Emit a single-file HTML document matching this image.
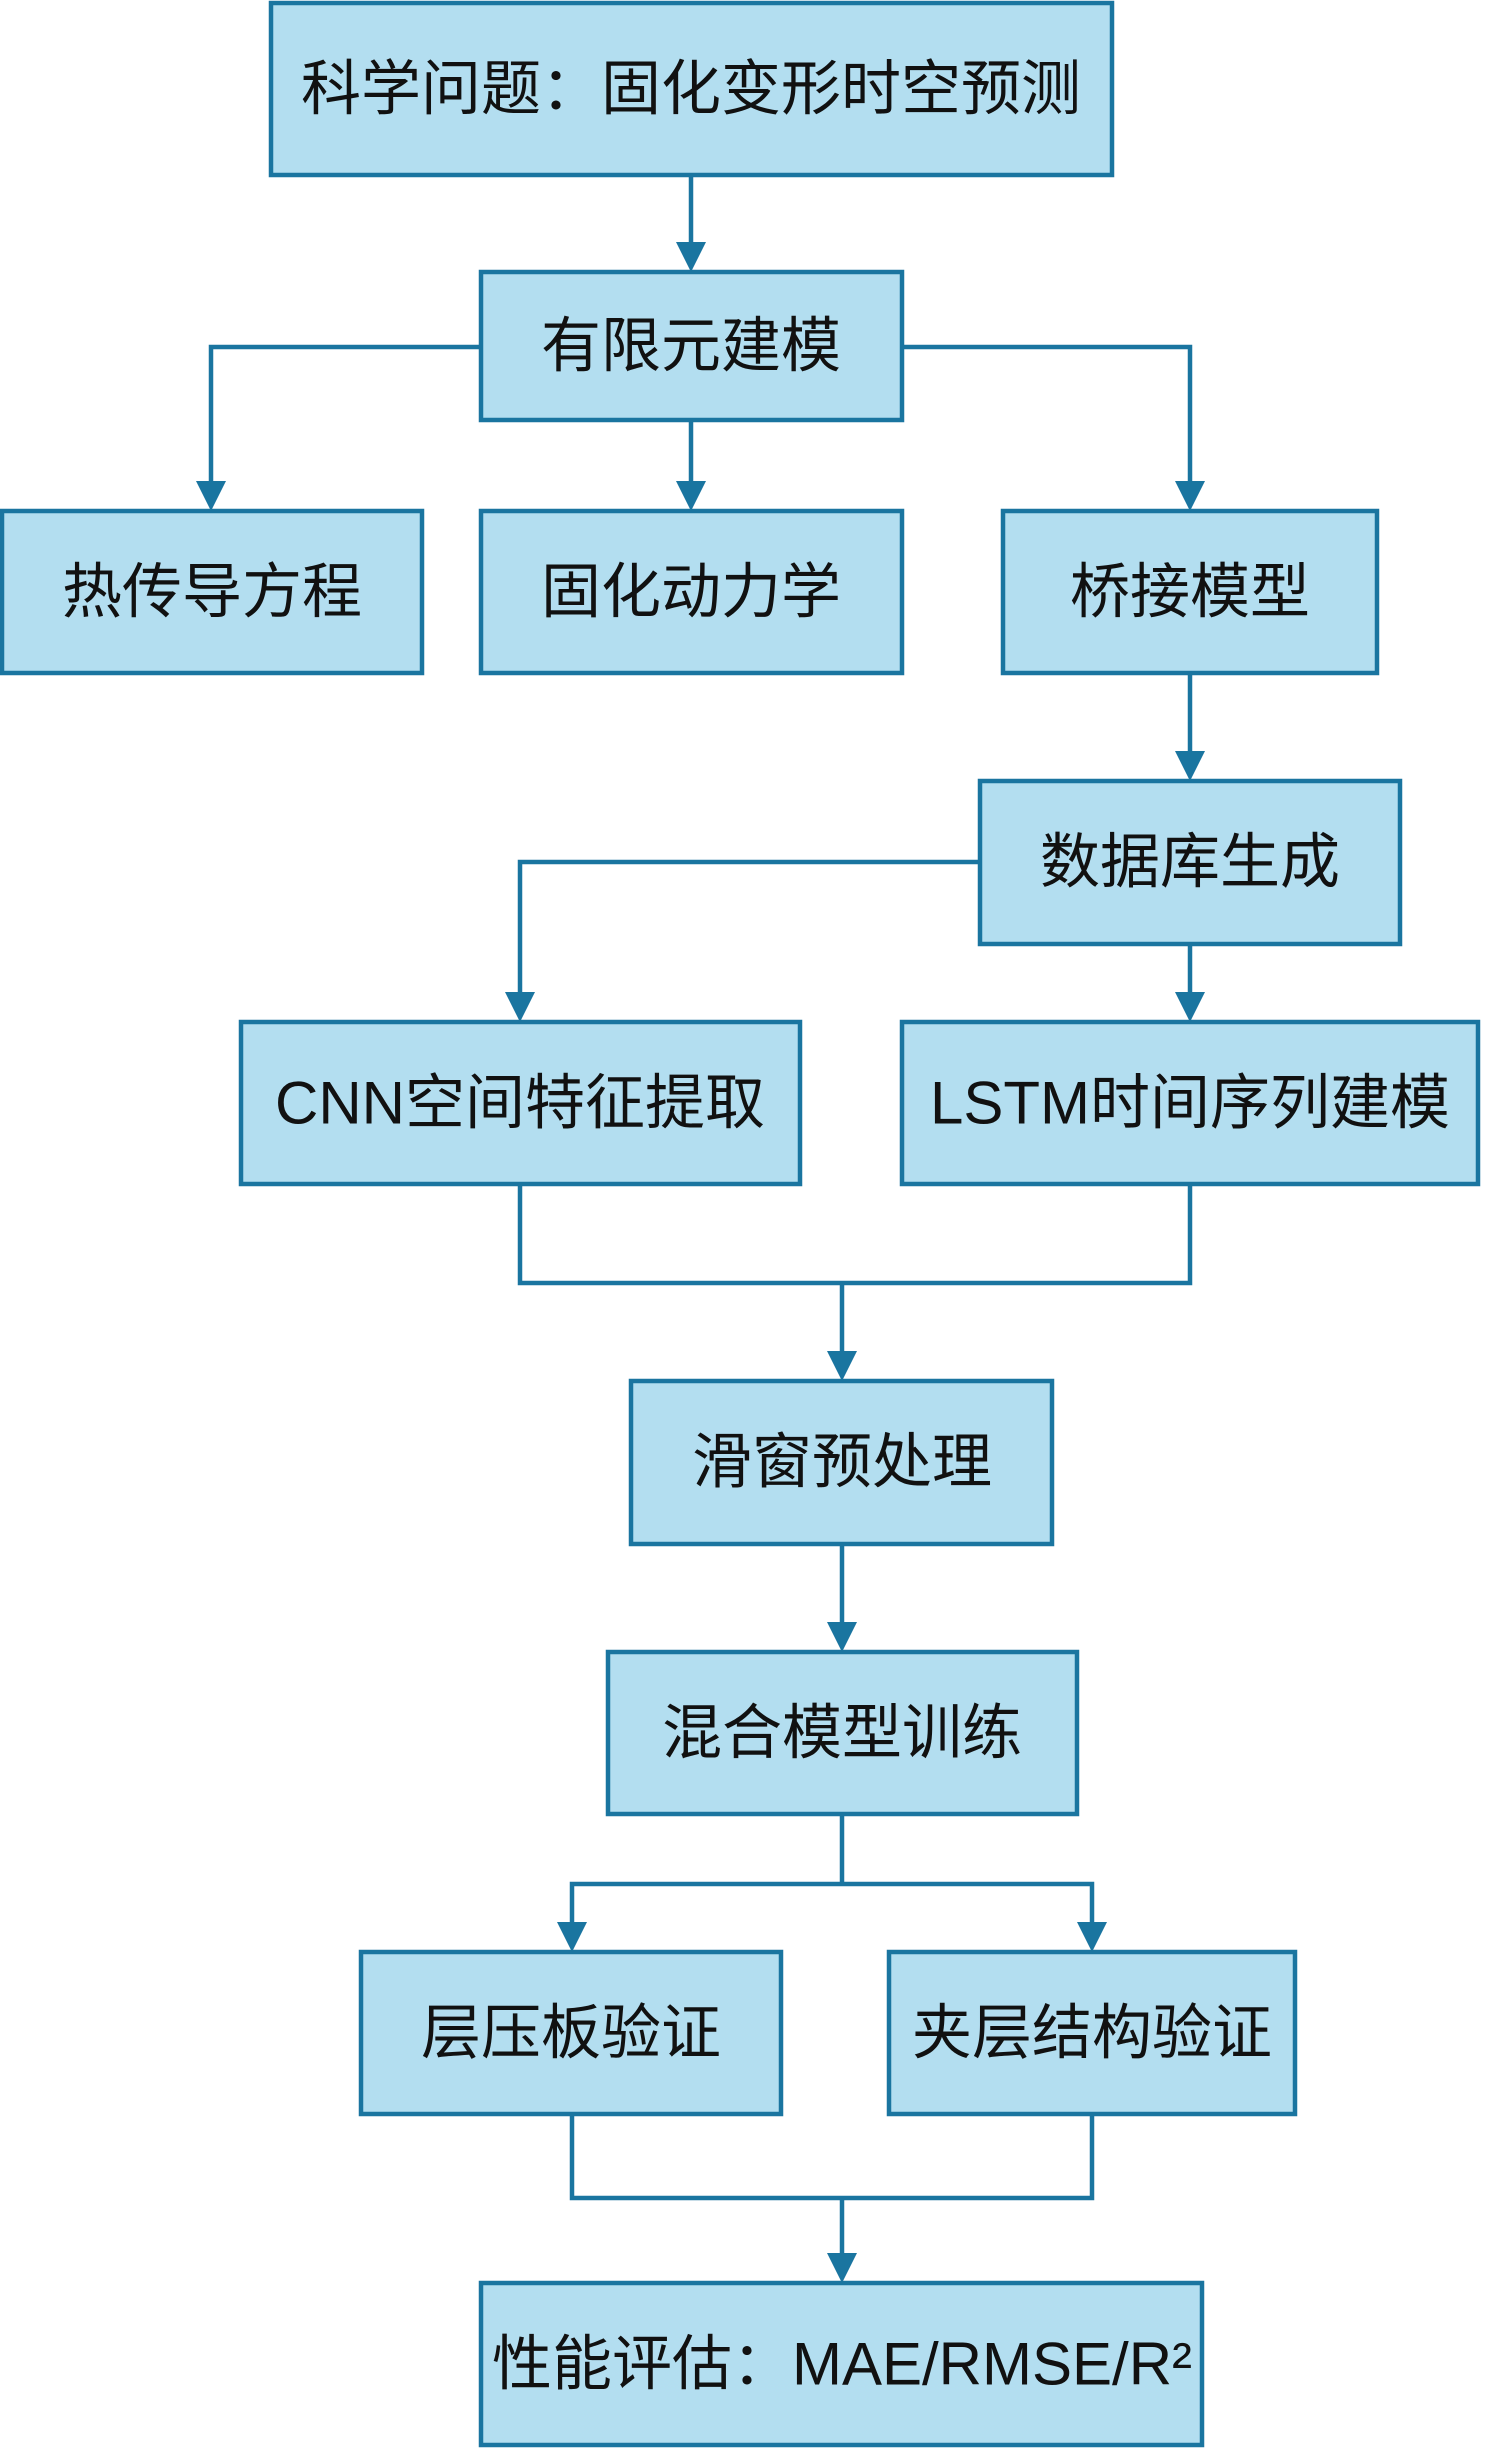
<!DOCTYPE html>
<html><head><meta charset="utf-8"><style>
html,body{margin:0;padding:0;background:#fff;}
svg{display:block;}
text{font-family:"Liberation Sans","Noto Sans CJK SC",sans-serif;font-size:60px;fill:#111;}
</style></head><body>
<svg width="1485" height="2448" viewBox="0 0 1485 2448" xmlns="http://www.w3.org/2000/svg">
<g fill="none" stroke="#1a75a0" stroke-width="4.5">
<path d="M691 175V245"/>
<path d="M481 347H211V484"/>
<path d="M691 420V484"/>
<path d="M902 347H1190V484"/>
<path d="M1190 673V754"/>
<path d="M980 862H520V995"/>
<path d="M1190 944V995"/>
<path d="M520 1184V1283H1190V1184"/>
<path d="M842 1283V1354"/>
<path d="M842 1544V1625"/>
<path d="M842 1814V1884"/>
<path d="M572 1925V1884H1092V1925"/>
<path d="M572 2114V2198H1092V2114"/>
<path d="M842 2198V2256"/>
</g>
<g fill="#1a75a0">
<path d="M676 242L706 242L691 272Z"/>
<path d="M196 481L226 481L211 511Z"/>
<path d="M676 481L706 481L691 511Z"/>
<path d="M1175 481L1205 481L1190 511Z"/>
<path d="M1175 751L1205 751L1190 781Z"/>
<path d="M505 992L535 992L520 1022Z"/>
<path d="M1175 992L1205 992L1190 1022Z"/>
<path d="M827 1351L857 1351L842 1381Z"/>
<path d="M827 1622L857 1622L842 1652Z"/>
<path d="M557 1922L587 1922L572 1952Z"/>
<path d="M1077 1922L1107 1922L1092 1952Z"/>
<path d="M827 2253L857 2253L842 2283Z"/>
</g>
<g fill="#b3def0" stroke="#1a75a0" stroke-width="4.5">
<rect x="271" y="3" width="841" height="172"/>
<rect x="481" y="272" width="421" height="148"/>
<rect x="2" y="511" width="420" height="162"/>
<rect x="481" y="511" width="421" height="162"/>
<rect x="1003" y="511" width="374" height="162"/>
<rect x="980" y="781" width="420" height="163"/>
<rect x="241" y="1022" width="559" height="162"/>
<rect x="902" y="1022" width="576" height="162"/>
<rect x="631" y="1381" width="421" height="163"/>
<rect x="608" y="1652" width="469" height="162"/>
<rect x="361" y="1952" width="420" height="162"/>
<rect x="889" y="1952" width="406" height="162"/>
<rect x="481" y="2283" width="721" height="162"/>
</g>
<g text-anchor="middle" dominant-baseline="central">
<text x="691" y="89">科学问题：固化变形时空预测</text>
<text x="691" y="346">有限元建模</text>
<text x="212" y="592">热传导方程</text>
<text x="691" y="592">固化动力学</text>
<text x="1190" y="592">桥接模型</text>
<text x="1190" y="862">数据库生成</text>
<text x="520" y="1103">CNN空间特征提取</text>
<text x="1190" y="1103">LSTM时间序列建模</text>
<text x="842" y="1462">滑窗预处理</text>
<text x="842" y="1733">混合模型训练</text>
<text x="571" y="2033">层压板验证</text>
<text x="1092" y="2033">夹层结构验证</text>
<text x="842" y="2364">性能评估：MAE/RMSE/R²</text>
</g>
</svg>
</body></html>
